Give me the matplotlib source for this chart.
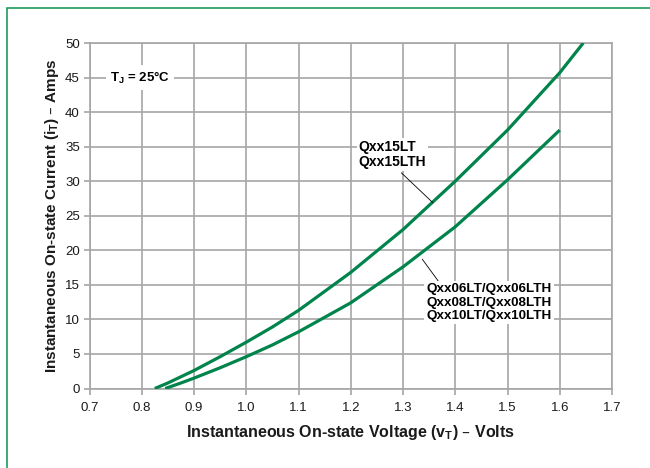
import matplotlib
matplotlib.use("Agg")
import matplotlib.pyplot as plt
from matplotlib.patches import Rectangle

plt.rcParams['font.family'] = ['Liberation Sans', 'DejaVu Sans']

# Data
v_15 = [0.825, 0.85, 0.9, 0.95, 1.0, 1.05, 1.1, 1.2, 1.3, 1.4, 1.5, 1.6, 1.645]
i_15 = [0, 0.8, 2.6, 4.6, 6.7, 8.9, 11.3, 16.8, 23.0, 30.0, 37.4, 45.7, 50]
v_10 = [0.845, 0.875, 0.9, 0.95, 1.0, 1.05, 1.1, 1.2, 1.3, 1.4, 1.5, 1.6]
i_10 = [0, 0.8, 1.5, 3.0, 4.6, 6.3, 8.2, 12.4, 17.6, 23.4, 30.2, 37.4]
x_ticks = [0.7, 0.8, 0.9, 1.0, 1.1, 1.2, 1.3, 1.4, 1.5, 1.6, 1.7]
y_ticks = [0, 5, 10, 15, 20, 25, 30, 35, 40, 45, 50]
label_15 = "Qxx15LT\nQxx15LTH"
label_10 = "Qxx06LT/Qxx06LTH\nQxx08LT/Qxx08LTH\nQxx10LT/Qxx10LTH"

W, H = 650, 468
fig = plt.figure(figsize=(W / 100, H / 100), dpi=100)
ax = fig.add_axes([89.5 / W, 1 - 388.5 / H, (612 - 89.5) / W, (388.5 - 43) / H])

curve_color = '#00844c'
grid_color = '#a6a6a6'

ax.plot(v_15, i_15, color=curve_color, lw=2.3, solid_capstyle='butt', zorder=3)
ax.plot(v_10, i_10, color=curve_color, lw=2.3, solid_capstyle='butt', zorder=3)

ax.set_xlim(0.7, 1.7)
ax.set_ylim(0, 50)
ax.set_xticks(x_ticks)
ax.set_xticklabels([f"{t:.1f}" for t in x_ticks])
ax.set_yticks(y_ticks)
ax.grid(True, color=grid_color, lw=1.2, zorder=0)
ax.set_axisbelow(True)
for s in ax.spines.values():
    s.set_color(grid_color)
    s.set_linewidth(1.2)
ax.tick_params(axis='both', colors=grid_color, labelcolor='#1a1a1a',
               labelsize=9.5, length=4, width=1.2, direction='out')
ax.tick_params(axis='x', pad=6)
ax.tick_params(axis='y', pad=3)

ax.set_xlabel(r"Instantaneous On-state Voltage (v$_\mathregular{T}$) – Volts",
              fontsize=11.5, fontweight='bold', color='#1a1a1a', labelpad=6)
ax.set_ylabel(r"Instantaneous On-state Current (i$_\mathregular{T}$) – Amps",
              fontsize=11, fontweight='bold', color='#1a1a1a', labelpad=3)

bbox = dict(facecolor='white', edgecolor='none', pad=1.5)
ax.text(0.797, 45, r"T$_\mathregular{J}$ = 25°C", fontsize=9.5, fontweight='bold',
        ha='center', va='center', bbox=dict(facecolor='white', edgecolor='none', pad=3), zorder=4)

ax.text(1.215, 33.9, label_15, fontsize=10, fontweight='bold', ha='left', va='center',
        linespacing=1.12, bbox=bbox, zorder=4)
ax.plot([1.297, 1.357], [31.2, 26.9], color='black', lw=0.6, zorder=4)

ax.text(1.345, 12.4, label_10, fontsize=9.7, fontweight='bold', ha='left', va='center',
        linespacing=1.15, bbox=bbox, zorder=4)
ax.plot([1.337, 1.367], [18.7, 15.6], color='black', lw=0.6, zorder=4)

border = Rectangle((7 / W, -0.2), 1.2, 1 - 8 / H + 0.2, transform=fig.transFigure,
                   fill=False, edgecolor='#1f9a5c', lw=1.2)
fig.patches.append(border)

fig.savefig("out.png", dpi=100)
